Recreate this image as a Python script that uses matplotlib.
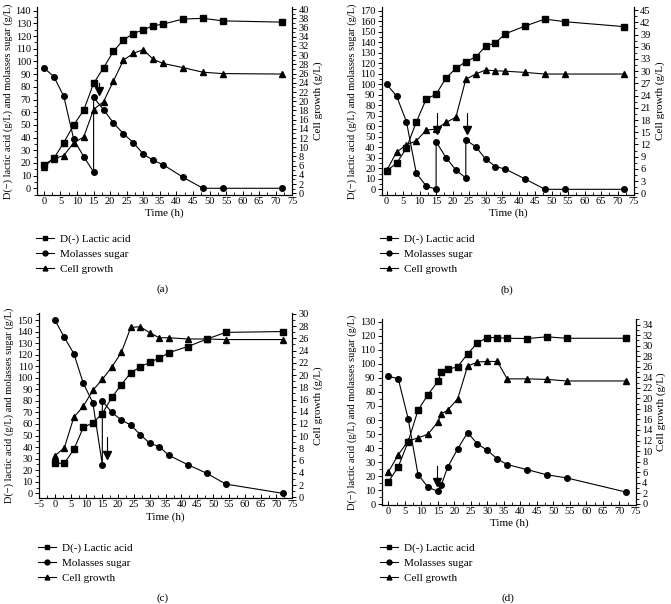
import matplotlib
matplotlib.use('Agg')
import matplotlib.pyplot as plt
from matplotlib.lines import Line2D
from matplotlib.ticker import MultipleLocator

plt.rcParams['font.family'] = ['Liberation Serif', 'DejaVu Serif']
plt.rcParams['font.size'] = 8

# sampling times (h)
t_std = [0, 3, 6, 9, 12, 15, 18, 21, 24, 27, 30, 33, 36, 42, 48, 54, 72]
t_d = [0, 3, 6, 9, 12, 15, 16, 18, 21, 24, 27, 30, 33, 36, 42, 48, 54, 72]

# (a)
lactic_a = [18.4, 23.6, 36, 50, 61.5, 82.7, 95, 108, 117, 122, 125, 128, 129.5, 133.4, 134, 132, 131]
t_sugar_a = [0, 3, 6, 9, 12, 15, 15, 18, 21, 24, 27, 30, 33, 36, 42, 48, 54, 72]
sugar_a = [95, 88, 72.5, 38.6, 25, 12.9, 71.7, 62, 51.5, 43, 36, 27, 22, 18.6, 8.7, 0, 0, 0]
cell_a = [5.8, 7.5, 8.2, 11, 12.2, 18.2, 19.9, 24.4, 28.9, 30.4, 31.2, 29.1, 28.2, 27.3, 26.3, 26, 25.9]

# (b)
lactic_b = [17.8, 24.7, 39.3, 64, 86, 90.4, 106, 115, 121.5, 126, 136, 139.5, 148, 155.4, 162, 159.5, 154.8]
t_sugar_b = [0, 3, 6, 9, 12, 15, 15, 18, 21, 24, 24, 27, 30, 33, 36, 42, 48, 54, 72]
sugar_b = [100, 88.8, 64.4, 15.2, 3.2, 0, 45.4, 30.1, 18.4, 10.8, 47, 40.6, 28.9, 21.6, 19.3, 9.8, 0, 0, 0]
cell_b = [5.6, 10.1, 11.9, 12.9, 15.5, 15.8, 17.4, 18.7, 28, 29.3, 30.3, 30.1, 30, 29.7, 29.3, 29.3, 29.3]

# (c)
lactic_c = [26, 26, 38, 57, 61, 69, 83, 94, 104.4, 109.5, 113.4, 117, 121.7, 127, 133.5, 139.3, 140]
t_sugar_c = [0, 3, 6, 9, 12, 15, 15, 18, 21, 24, 27, 30, 33, 36, 42, 48, 54, 72]
sugar_c = [150, 135, 120.9, 95.2, 78.5, 24.8, 80, 70, 63.5, 59, 50.8, 43.3, 40.4, 32.9, 24.8, 17.3, 8, 0]
cell_c = [6.8, 8.1, 13.1, 14.9, 17.5, 19.3, 21.3, 23.7, 27.8, 27.9, 26.9, 26.1, 26.1, 25.9, 25.9, 25.8, 25.8]

# (d)
lactic_d = [16, 26.6, 44.5, 67, 78, 87.5, 94, 96, 98, 107, 115, 118.7, 118.7, 118.2, 118, 119.2, 118.2, 118.2]
sugar_d = [91.1, 89.5, 61, 21.2, 12.3, 9.2, 13.4, 26.6, 39.4, 51, 43, 38.4, 32.3, 28.3, 24.7, 21, 18.8, 8.7]
cell_d = [6.0, 9.3, 11.9, 12.5, 13.2, 15.5, 17.0, 17.8, 19.9, 26.1, 26.9, 27.0, 27.0, 23.7, 23.7, 23.6, 23.3, 23.3]

# feeding arrows: (time, top, head) in left axis units
arrows_a = [(16.5, 83, 77)]
arrows_b = [(15.3, 72.6, 56.8), (24.3, 72.6, 56.8)]
arrows_c = [(16.5, 49, 33)]
arrows_d = [(14.7, 27, 15.8)]

left_label = 'D(\u2212) lactic acid (g/L) and molasses sugar (g/L)'
right_label = 'Cell growth (g/L)'
legend_labels = ['D(-) Lactic acid', 'Molasses sugar', 'Cell growth']

W, H = 671, 604
fig = plt.figure(figsize=(W / 100, H / 100), dpi=100)


def px_axes(x0, x1, ytop, ybot):
    return fig.add_axes([x0 / W, 1 - ybot / H, (x1 - x0) / W, (ybot - ytop) / H])


def panel(rect, t_lac, lactic, t_sug, sugar, t_cell, cell, arrows,
          xlim, ylim, ylim2, ystep, ystep2, xstart, leg_xy, tag, tag_xy):
    ax = px_axes(*rect)
    ax2 = ax.twinx()
    kw = dict(color='black', lw=0.8, markersize=4)
    ax.plot(t_lac, lactic, marker='s', **kw)
    ax.plot(t_sug, sugar, marker='o', **kw)
    ax2.plot(t_cell, cell, marker='^', **kw)
    for x, top, head in arrows:
        ax.plot([x, x], [top, head], color='black', lw=0.8)
        ax.plot([x], [head], marker='v', color='black', markersize=6)

    ax.set_xlim(*xlim)
    ax.set_ylim(*ylim)
    ax2.set_ylim(*ylim2)
    ax.set_xticks(range(xstart, 76, 5))
    ax.xaxis.set_minor_locator(MultipleLocator(2.5))
    ax.set_yticks(range(0, int(ylim[1]) + 1, ystep))
    ax.yaxis.set_minor_locator(MultipleLocator(ystep / 2))
    ax2.set_yticks(range(0, int(ylim2[1]) + 1, ystep2))
    ax2.yaxis.set_minor_locator(MultipleLocator(ystep2 / 2))

    for a in (ax, ax2):
        a.spines['top'].set_visible(False)
        a.tick_params(labelsize=7.5, length=3, width=0.7, pad=1.5)
        a.tick_params(which='minor', length=2, width=0.6)
        for s in a.spines.values():
            s.set_linewidth(0.8)
    ax.tick_params(axis='x', which='both', direction='in')

    ax.set_xlabel('Time (h)', fontsize=8, labelpad=2)
    ax.set_ylabel(left_label, fontsize=7.5, labelpad=2)
    ax2.set_ylabel(right_label, fontsize=8, labelpad=3)

    handles = [Line2D([], [], color='black', lw=0.8, marker=m, markersize=3.5)
                for m in ('s', 'o', '^')]
    fig.legend(handles, legend_labels, loc='upper left',
               bbox_to_anchor=(leg_xy[0] / W, 1 - leg_xy[1] / H),
               frameon=False, fontsize=8, handlelength=1.6, handletextpad=0.6,
               labelspacing=0.45, borderpad=0, borderaxespad=0)
    fig.text(tag_xy[0] / W, 1 - tag_xy[1] / H, tag, ha='center', va='center', fontsize=8)
    return ax


panel((37.3, 292.3, 7.3, 195), t_std, lactic_a, t_sugar_a, sugar_a, t_std, cell_a, arrows_a,
      (-2, 75), (-5.3, 142.7), (-0.37, 40.4), 10, 2, 0, (36, 234), '(a)', (163, 289))
panel((381.7, 634, 7.3, 195), t_std, lactic_b, t_sugar_b, sugar_b, t_std, cell_b, arrows_b,
      (-1.5, 75), (-5.4, 173.2), (-0.42, 45.7), 10, 3, 0, (380, 234), '(b)', (507, 290))
panel((39, 292.3, 313.3, 498.3), t_std, lactic_c, t_sugar_c, sugar_c, t_std, cell_c, arrows_c,
      (-5, 75), (-4.3, 155.8), (-0.16, 30.1), 10, 2, -5, (38, 543), '(c)', (163, 598))
panel((381.7, 636, 319.3, 505), t_d, lactic_d, t_d, sugar_d, t_d, cell_d, arrows_d,
      (-2, 75), (-0.5, 131.7), (-0.23, 35.0), 10, 2, 0, (380, 543), '(d)', (508, 598))

fig.savefig('out.png', dpi=100)
